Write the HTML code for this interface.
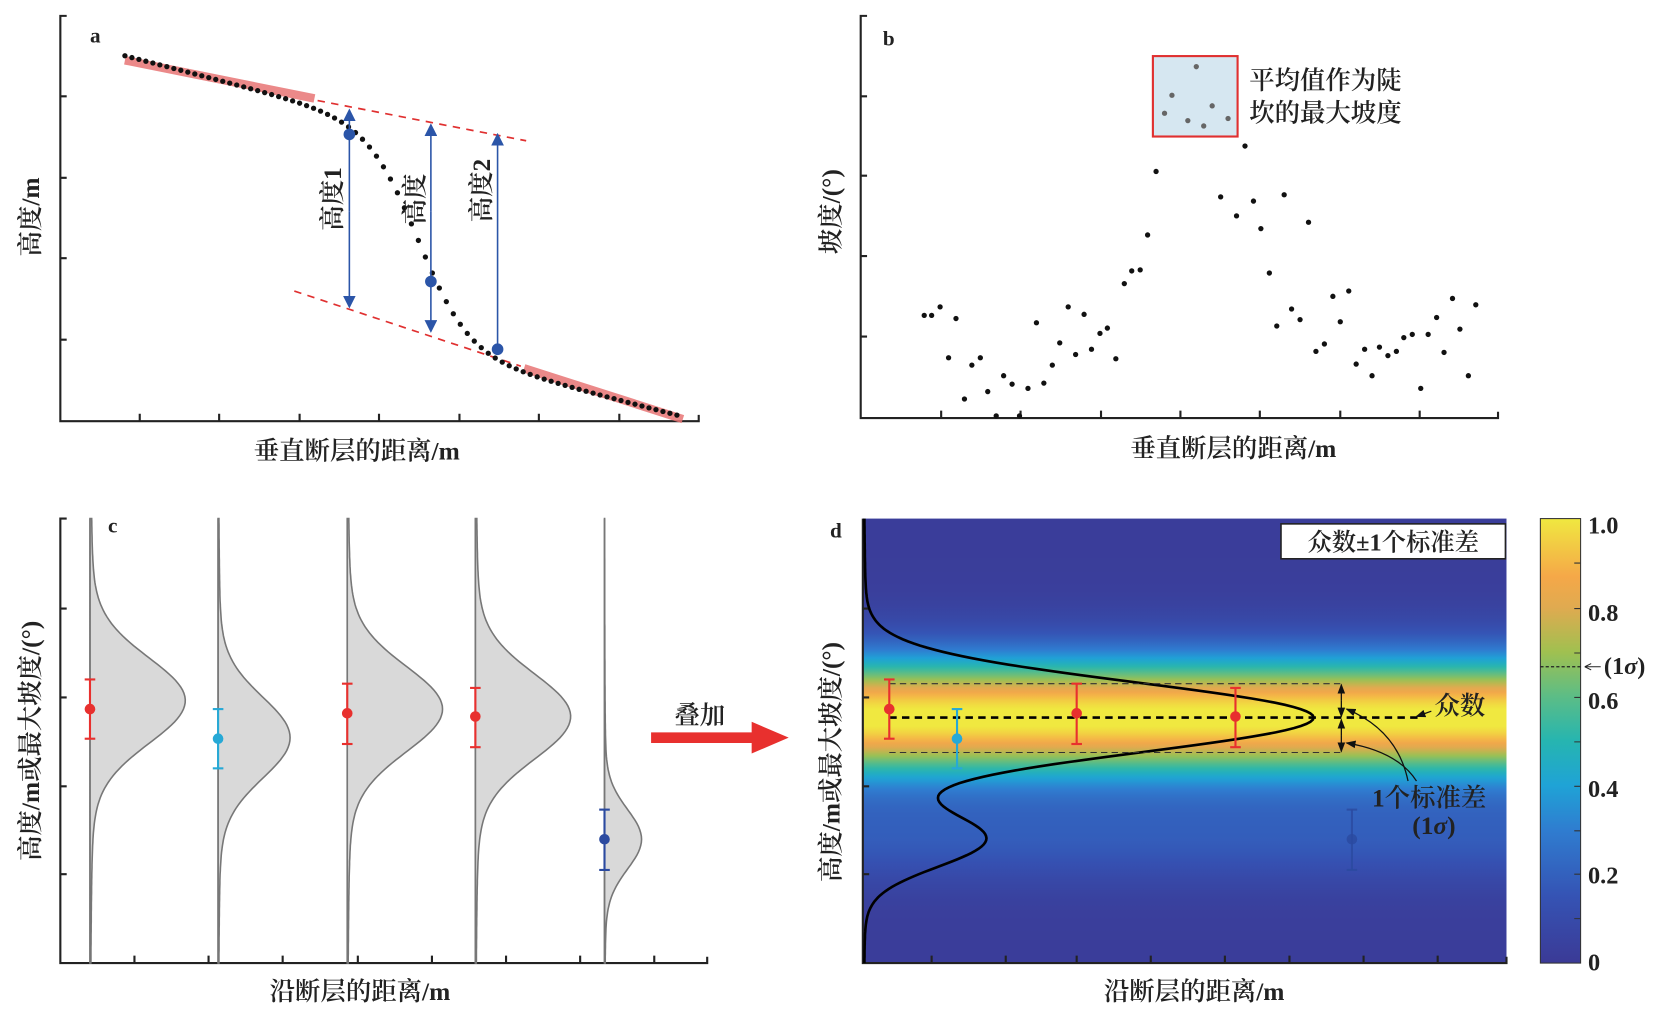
<!DOCTYPE html>
<html><head><meta charset="utf-8">
<style>
html,body{margin:0;padding:0;background:#fff;}
svg{display:block;}
text{font-family:"Liberation Serif","Noto Serif CJK SC",serif;fill:#222;font-weight:600;}
</style></head>
<body>
<svg id="s" width="1660" height="1016" viewBox="0 0 1568 960" preserveAspectRatio="none" xmlns="http://www.w3.org/2000/svg">
<defs>
<marker id="ah" markerWidth="8" markerHeight="8" refX="7" refY="4" orient="auto"><path d="M0,0 L8,4 L0,8 Z" fill="#2b55a8"/></marker>
<marker id="ak" markerWidth="8" markerHeight="8" refX="7" refY="4" orient="auto"><path d="M0,1 L8,4 L0,7 Z" fill="#111"/></marker>
<linearGradient id="cb" x1="0" y1="1" x2="0" y2="0">
<stop offset="0" stop-color="#3b3a96"/><stop offset="0.15" stop-color="#3553b4"/><stop offset="0.3" stop-color="#2f7dd0"/><stop offset="0.4" stop-color="#1fa3d6"/><stop offset="0.5" stop-color="#26b5b0"/><stop offset="0.6" stop-color="#5cbd86"/><stop offset="0.7" stop-color="#a0c050"/><stop offset="0.8" stop-color="#e0aa50"/><stop offset="0.87" stop-color="#f5a848"/><stop offset="1" stop-color="#f0e840"/>
</linearGradient>
<linearGradient id="hm" x1="0" y1="0" x2="0" y2="1"></linearGradient>
</defs>

<!-- Panel a -->
<g stroke="#222" stroke-width="2" fill="none">
<path d="M63,15 H57 V398 H660 V392"/>
<path d="M57,91 h6 M57,168 h6 M57,244 h6 M57,321 h6 M132,398 v-7 M207,398 v-7 M283,398 v-7 M358,398 v-7 M434,398 v-7 M509,398 v-7 M585,398 v-7"/>
</g>
<text x="85" y="40" font-size="20" font-weight="bold">a</text>
<text transform="translate(37,205) rotate(-90)" font-size="24" text-anchor="middle">高度/m</text>
<text x="337" y="434" font-size="24" text-anchor="middle">垂直断层的距离/m</text>
<line x1="118" y1="57" x2="297" y2="93" stroke="#e87575" stroke-width="8" opacity="0.85"/>
<line x1="495" y1="348" x2="645" y2="396" stroke="#e87575" stroke-width="8" opacity="0.85"/>
<line x1="300" y1="95" x2="497" y2="133" stroke="#e03030" stroke-width="1.6" stroke-dasharray="7,6"/>
<line x1="278" y1="275" x2="492" y2="346" stroke="#e03030" stroke-width="1.6" stroke-dasharray="7,6"/>
<g id="adots"></g>
<g stroke="#2b55a8" stroke-width="1.5">
<line x1="330" y1="200" x2="330" y2="104" marker-end="url(#ah)"/><line x1="330" y1="200" x2="330" y2="290" marker-end="url(#ah)"/>
<line x1="407" y1="200" x2="407" y2="118" marker-end="url(#ah)"/><line x1="407" y1="200" x2="407" y2="313" marker-end="url(#ah)"/>
<line x1="470" y1="330" x2="470" y2="127" marker-end="url(#ah)"/>
</g>
<g fill="#2b55a8"><circle cx="330" cy="127" r="5.5"/><circle cx="407" cy="266" r="5.5"/><circle cx="470" cy="330" r="5.5"/></g>
<text transform="translate(322,188) rotate(-90)" font-size="24" text-anchor="middle">高度1</text>
<text transform="translate(400,188) rotate(-90)" font-size="24" text-anchor="middle">高度</text>
<text transform="translate(463,180) rotate(-90)" font-size="24" text-anchor="middle">高度2</text>

<!-- Panel b -->
<g stroke="#222" stroke-width="2" fill="none">
<path d="M819,15 H813 V395 H1415 V389"/>
<path d="M813,91 h6 M813,166 h6 M813,242 h6 M813,318 h6 M889,395 v-7 M964,395 v-7 M1040,395 v-7 M1115,395 v-7 M1190,395 v-7 M1266,395 v-7 M1341,395 v-7"/>
</g>
<text x="834" y="43" font-size="20" font-weight="bold">b</text>
<text transform="translate(793,200) rotate(-90)" font-size="24" text-anchor="middle">坡度/(°)</text>
<text x="1165" y="432" font-size="24" text-anchor="middle">垂直断层的距离/m</text>
<rect x="1089" y="53" width="80" height="76" fill="#d6e7f1" stroke="#e03030" stroke-width="2"/>
<g fill="#666"><circle cx="1130" cy="63" r="2.5"/><circle cx="1107" cy="90" r="2.5"/><circle cx="1100" cy="107" r="2.5"/><circle cx="1122" cy="114" r="2.5"/><circle cx="1137" cy="119" r="2.5"/><circle cx="1145" cy="100" r="2.5"/><circle cx="1160" cy="112" r="2.5"/></g>
<text x="1180" y="84" font-size="24">平均值作为陡</text>
<text x="1180" y="115" font-size="24">坎的最大坡度</text>
<g id="bdots" fill="#111"></g>

<!-- Panel c -->
<g stroke="#222" stroke-width="2" fill="none">
<path d="M63,490 H57 V910 H668 V904"/>
<path d="M57,575 h6 M57,659 h6 M57,743 h6 M57,826 h6 M127,910 v-7 M197,910 v-7 M267,910 v-7 M338,910 v-7 M408,910 v-7 M478,910 v-7 M548,910 v-7 M618,910 v-7"/>
</g>
<g id="bulges"></g>
<text x="102" y="503" font-size="20" font-weight="bold">c</text>
<text transform="translate(37,700) rotate(-90)" font-size="24" text-anchor="middle">高度/m或最大坡度/(°)</text>
<text x="340" y="945" font-size="24" text-anchor="middle">沿断层的距离/m</text>
<g id="cerr"></g>
<text x="661" y="684" font-size="24" text-anchor="middle">叠加</text>
<path d="M615,692 H710 V682 L745,697 L710,712 V702 H615 Z" fill="#e8302e"/>

<!-- Panel d -->
<rect x="815" y="490" width="608" height="420" fill="url(#hm)"/>
<g stroke="#222" stroke-width="2" fill="none">
<path d="M815,490 V910 H1423 V904"/>
<path d="M815,575 h6 M815,659 h6 M815,743 h6 M815,826 h6 M880,910 v-7 M950,910 v-7 M1017,910 v-7 M1087,910 v-7 M1157,910 v-7 M1218,910 v-7 M1288,910 v-7 M1358,910 v-7"/>
</g>
<path id="dcurve" fill="none" stroke="#000" stroke-width="2.5"/>
<line x1="840" y1="678" x2="1340" y2="678" stroke="#000" stroke-width="2.5" stroke-dasharray="7,5"/>
<line x1="840" y1="646" x2="1267" y2="646" stroke="#333" stroke-width="1" stroke-dasharray="6,4"/>
<line x1="840" y1="711" x2="1267" y2="711" stroke="#333" stroke-width="1" stroke-dasharray="6,4"/>
<g id="derr"></g>
<g stroke="#111" stroke-width="1.2">
<line x1="1267" y1="662" x2="1267" y2="647" marker-end="url(#ak)"/><line x1="1267" y1="662" x2="1267" y2="677" marker-end="url(#ak)"/>
<line x1="1267" y1="695" x2="1267" y2="680" marker-end="url(#ak)"/><line x1="1267" y1="695" x2="1267" y2="710" marker-end="url(#ak)"/>
<line x1="1352" y1="672" x2="1338" y2="677" marker-end="url(#ak)"/>
<path d="M1330,738 Q1320,690 1272,670" fill="none" marker-end="url(#ak)"/>
<path d="M1338,738 Q1320,710 1272,702" fill="none" marker-end="url(#ak)"/>
</g>
<text x="1355" y="675" font-size="24" font-weight="bold">众数</text>
<text x="1296" y="762" font-size="24" font-weight="bold">1个标准差</text>
<text x="1334" y="788" font-size="24" font-weight="bold">(1<tspan font-style="italic">σ</tspan>)</text>
<rect x="1210" y="495" width="212" height="33" fill="#fff" stroke="#222" stroke-width="1.5"/>
<text x="1316" y="520" font-size="23" text-anchor="middle" font-weight="bold">众数±1个标准差</text>
<text x="784" y="508" font-size="20" font-weight="bold">d</text>
<text transform="translate(793,720) rotate(-90)" font-size="24" text-anchor="middle">高度/m或最大坡度/(°)</text>
<text x="1128" y="945" font-size="24" text-anchor="middle">沿断层的距离/m</text>

<!-- colorbar -->
<rect x="1455" y="490" width="38" height="420" fill="url(#cb)" stroke="#333" stroke-width="1"/>
<g stroke="#333" stroke-width="1"><path d="M1487,532 h6 M1487,575 h6 M1487,617 h6 M1487,659 h6 M1487,701 h6 M1487,743 h6 M1487,785 h6 M1487,826 h6 M1487,868 h6"/></g>
<line x1="1455" y1="630" x2="1493" y2="630" stroke="#222" stroke-width="1.2" stroke-dasharray="3,2"/>
<g font-size="23"><text x="1500" y="504">1.0</text><text x="1500" y="587">0.8</text><text x="1500" y="670">0.6</text><text x="1500" y="753">0.4</text><text x="1500" y="835">0.2</text><text x="1500" y="917">0</text></g>
<line x1="1512" y1="630" x2="1497" y2="630" stroke="#222" stroke-width="1"/>
<path d="M1497,630 l6,-3 M1497,630 l6,3" stroke="#222" stroke-width="1"/>
<text x="1515" y="637" font-size="23">(1<tspan font-style="italic">σ</tspan>)</text>
</svg>
<script>
var NS="http://www.w3.org/2000/svg";
function el(t,a,p){var e=document.createElementNS(NS,t);for(var k in a)e.setAttribute(k,a[k]);p.appendChild(e);return e;}
var ad=document.getElementById('adots');
for(var x=118;x<=646;x+=6.6){var y=124+0.26*x+102*Math.tanh((x-395)/48);el('circle',{cx:x,cy:y,r:2.5,fill:'#111'},ad);}
var bp=[[873,298],[880,298],[888,290],[896,338],[903,301],[911,377],[918,345],[926,338],[933,370],[941,393],[948,355],[956,363],[963,393],[971,367],[979,305],[986,362],[994,345],[1001,324],[1009,290],[1016,335],[1024,297],[1031,330],[1039,315],[1046,310],[1054,339],[1062,268],[1069,256],[1077,255],[1084,222],[1092,162],[1153,186],[1168,204],[1176,138],[1184,190],[1191,216],[1199,258],[1206,308],[1213,184],[1220,292],[1228,302],[1236,210],[1243,332],[1251,325],[1259,280],[1266,304],[1274,275],[1281,344],[1289,330],[1296,355],[1303,328],[1311,336],[1319,332],[1326,319],[1334,316],[1342,367],[1349,316],[1357,300],[1364,333],[1372,282],[1379,311],[1387,355],[1394,288]];
var bd=document.getElementById('bdots');bp.forEach(function(p){el('circle',{cx:p[0],cy:p[1],r:2.5},bd);});
var bg=document.getElementById('bulges');
var bl=[[85,662,90,40],[206,697,68,38],[328,670,90,40],[449,677,90,40],[571,793,35,28]];
bl.forEach(function(b){var d='M'+b[0]+',490 ';for(var y=490;y<=910;y+=3){var dy=(y-b[1])/b[3];var v=0.9*Math.exp(-dy*dy/2)+0.1/(1+dy*dy/4);d+='L'+(b[0]+b[2]*v).toFixed(1)+','+y+' ';}d+='L'+b[0]+',910 Z';
el('path',{d:d,fill:'#d9d9d9',stroke:'#777','stroke-width':1.5},bg);el('line',{x1:b[0],y1:490,x2:b[0],y2:910,stroke:'#777','stroke-width':1.5},bg);});
function eb(g,x,c,lo,hi,col,op){el('line',{x1:x,y1:lo,x2:x,y2:hi,stroke:col,'stroke-width':2,opacity:op},g);el('line',{x1:x-5,y1:lo,x2:x+5,y2:lo,stroke:col,'stroke-width':2,opacity:op},g);el('line',{x1:x-5,y1:hi,x2:x+5,y2:hi,stroke:col,'stroke-width':2,opacity:op},g);el('circle',{cx:x,cy:c,r:5,fill:col,opacity:op},g);}
var cg=document.getElementById('cerr');
eb(cg,85,670,642,698,'#e8302e',1);eb(cg,206,698,670,726,'#27a9d6',1);eb(cg,328,674,646,703,'#e8302e',1);eb(cg,449,677,650,706,'#e8302e',1);eb(cg,571,793,765,822,'#2b4aa0',1);
var dg=document.getElementById('derr');
eb(dg,840,670,642,698,'#e8302e',1);eb(dg,904,698,670,726,'#27a9d6',1);eb(dg,1017,674,646,703,'#e8302e',1);eb(dg,1167,677,650,706,'#e8302e',1);eb(dg,1277,793,765,822,'#2b4aa0',0.8);
var d='';for(var y=490;y<=910;y+=2){var a=(y-678)/33,b=(y-793)/26;var v=420*Math.exp(-a*a/2)+112*Math.exp(-b*b/2)+6/(1+((y-700)/120)*((y-700)/120));d+=(y==490?'M':'L')+(815+v).toFixed(1)+','+y+' ';}
document.getElementById('dcurve').setAttribute('d',d);
var cs=[[0,[59,58,150]],[0.15,[53,83,180]],[0.3,[47,125,208]],[0.4,[31,163,214]],[0.5,[38,181,176]],[0.6,[92,189,134]],[0.7,[160,192,80]],[0.8,[224,170,80]],[0.87,[245,168,72]],[1,[240,232,64]]];
function cm(v){v=Math.max(0,Math.min(1,v));for(var i=1;i<cs.length;i++){if(v<=cs[i][0]){var t=(v-cs[i-1][0])/(cs[i][0]-cs[i-1][0]);var c=cs[i-1][1].map(function(q,j){return Math.round(q+(cs[i][1][j]-q)*t);});return 'rgb('+c.join(',')+')';}}return 'rgb(240,232,64)';}
var hm=document.getElementById('hm');
for(var y=490;y<=910;y+=4){var a=(y-678)/40,b=(y-793)/30;var v=Math.exp(-a*a/2)+0.15*Math.exp(-b*b/2)+0.02;el('stop',{offset:((y-490)/420).toFixed(4),'stop-color':cm(v)},hm);}
</script>
</body></html>
